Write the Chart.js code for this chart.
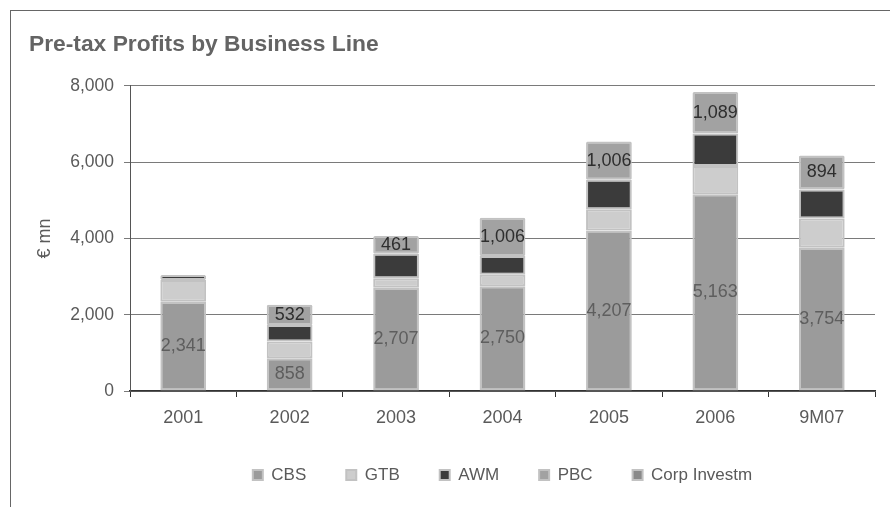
<!DOCTYPE html>
<html>
<head>
<meta charset="utf-8">
<script src="https://cdn.jsdelivr.net/npm/chart.js@4.4.0/dist/chart.umd.min.js"></script>
<style>
    html, body { margin: 0; padding: 0; background: #fff; }
    #wrap { position: relative; width: 890px; height: 507px; overflow: hidden; }
    #frame {
        position: absolute; left: 10px; top: 10px; width: 900px; height: 520px;
        border-left: 1px solid #666; border-top: 1px solid #666;
    }
    #profitChart { position: absolute; left: 0; top: 0; }
</style>
</head>
<body>
<div id="wrap">
    <div id="frame"></div>
    <canvas id="profitChart" width="890" height="507"></canvas>
</div>
<script>
// Pre-tax profits by business line, EUR mn
const categories = ['2001', '2002', '2003', '2004', '2005', '2006', '9M07'];
const cbs = [2341, 858, 2707, 2750, 4207, 5163, 3754];
const gtb = [570, 440, 250, 300, 560, 740, 770];
const awm = [130, 430, 645, 490, 770, 850, 760];
const pbc = [0, 532, 461, 1006, 1006, 1089, 894];
const corpInvestm = [0, 0, 0, 0, 0, 0, 0];
const yTicks = [0, 2000, 4000, 6000, 8000];

const FONT = 'Arial, "Liberation Sans", sans-serif';
const EDGE = '#c2c2c2';

function series(label, data, color, legendColor) {
    return {
        label: label,
        data: data,
        backgroundColor: color,
        borderColor: EDGE,
        borderWidth: 2,
        borderRadius: 1.5,
        borderSkipped: false,
        legendColor: legendColor || color
    };
}

// value labels inside the CBS and PBC segments
const segmentLabels = {
    id: 'segmentLabels',
    afterDatasetsDraw(chart) {
        const ctx = chart.ctx;
        const styles = { 0: '#5e5e5e', 3: '#2e2e2e' };
        ctx.save();
        ctx.font = '18px ' + FONT;
        ctx.textAlign = 'center';
        ctx.textBaseline = 'middle';
        Object.keys(styles).forEach(idx => {
            const meta = chart.getDatasetMeta(+idx);
            const values = chart.data.datasets[idx].data;
            meta.data.forEach((bar, i) => {
                if (!values[i]) return;
                const p = bar.getProps(['x', 'y', 'base'], true);
                ctx.fillStyle = styles[idx];
                ctx.fillText(values[i].toLocaleString('en-US'), p.x, (p.y + p.base) / 2);
            });
        });
        ctx.restore();
    }
};

new Chart(document.getElementById('profitChart'), {
    type: 'bar',
    data: {
        labels: categories,
        datasets: [
            series('CBS', cbs, '#9b9b9b'),
            series('GTB', gtb, '#cdcdcd'),
            series('AWM', awm, '#3b3b3b'),
            series('PBC', pbc, '#a2a2a2'),
            series('Corp Investm', corpInvestm, '#8a8a8a')
        ]
    },
    options: {
        responsive: false,
        animation: false,
        layout: { padding: { left: 29, right: 15, top: 0, bottom: 13.5 } },
        datasets: { bar: { categoryPercentage: 1, barPercentage: 0.43 } },
        plugins: {
            title: {
                display: true,
                text: 'Pre-tax Profits by Business Line',
                align: 'start',
                color: '#646464',
                font: { family: FONT, size: 22.8, weight: 'bold' },
                padding: { top: 30.8, bottom: 27.8 }
            },
            legend: {
                position: 'bottom',
                fullSize: false,
                labels: {
                    color: '#5a5a5a',
                    font: { family: FONT, size: 17 },
                    boxWidth: 10,
                    boxHeight: 10,
                    padding: 40,
                    generateLabels: chart => chart.data.datasets.map((ds, i) => ({
                        text: ds.label,
                        fillStyle: ds.legendColor,
                        strokeStyle: EDGE,
                        lineWidth: 2,
                        fontColor: '#5a5a5a',
                        datasetIndex: i
                    }))
                }
            },
            tooltip: { enabled: false }
        },
        scales: {
            x: {
                stacked: true,
                offset: true,
                grid: {
                    offset: true,
                    drawOnChartArea: false,
                    drawTicks: true,
                    tickLength: 6,
                    color: '#333'
                },
                border: { color: '#333', width: 1.5 },
                ticks: { color: '#5a5a5a', font: { family: FONT, size: 18 }, padding: 10 },
                afterFit: s => { s.height = 35.5; }
            },
            y: {
                stacked: true,
                min: 0,
                max: 8000,
                afterBuildTicks: s => { s.ticks = yTicks.map(v => ({ value: v })); },
                grid: { color: '#7a7a7a', lineWidth: 1, tickLength: 6 },
                border: { color: '#555', width: 1 },
                ticks: {
                    color: '#5a5a5a',
                    font: { family: FONT, size: 17.5 },
                    padding: 10,
                    callback: v => v.toLocaleString('en-US')
                },
                title: {
                    display: true,
                    text: '€ mn',
                    color: '#5a5a5a',
                    font: { family: FONT, size: 18 },
                    padding: { top: 5, bottom: 4 }
                },
                afterFit: s => { s.width = 101; }
            }
        }
    },
    plugins: [segmentLabels]
});
</script>
</body>
</html>
